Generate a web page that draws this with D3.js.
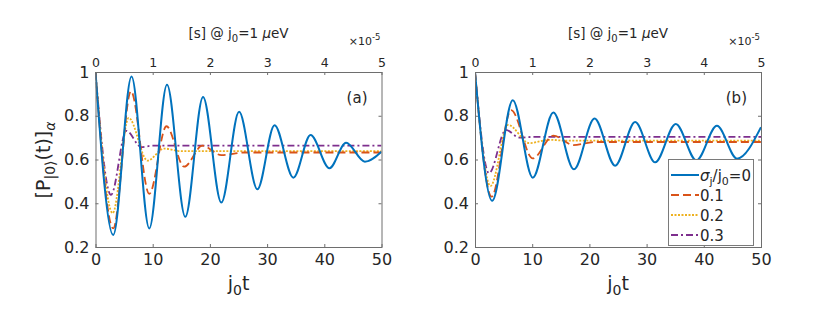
<!DOCTYPE html>
<html>
<head>
<meta charset="utf-8">
<script src="https://cdn.jsdelivr.net/npm/d3@7"></script>
<style>
  body { margin: 0; background: #fff; }
  text { font-family: "DejaVu Sans", sans-serif; fill: #262626; }
</style>
</head>
<body>
<svg id="chart" width="830" height="310"></svg>
<script>
// Data
// ----
var xTicks = [0, 10, 20, 30, 40, 50];
var xTopTicks = [0, 1, 2, 3, 4, 5];
var yTicks = [0.2, 0.4, 0.6, 0.8, 1];
var sigmas = ["0", "0.1", "0.2", "0.3"];

// panel (a)
var tA0 = [0, 3.1, 6.3, 9.4, 12.5, 15.7, 18.8, 22.0, 25.1, 28.3, 31.3, 34.6, 37.6, 40.9, 43.8, 47.1, 50];
var vA0 = [1, 0.255, 0.98, 0.285, 0.942, 0.338, 0.886, 0.403, 0.818, 0.464, 0.757, 0.517, 0.712, 0.56, 0.677, 0.59, 0.636];
var tA1 = [0, 3.1, 6.2, 9.4, 12.4, 15.5, 18.7, 22.0, 26, 50];
var vA1 = [1, 0.285, 0.912, 0.443, 0.752, 0.567, 0.663, 0.62, 0.632, 0.632];
var tA2 = [0, 3.0, 5.8, 9.1, 12.0, 15, 50];
var vA2 = [1, 0.355, 0.79, 0.595, 0.65, 0.638, 0.638];
var tA3 = [0, 2.7, 5.4, 8.0, 10, 50];
var vA3 = [1, 0.438, 0.731, 0.657, 0.663, 0.663];

// panel (b)
var tB0 = [0, 3.0, 6.6, 10.1, 13.7, 17.3, 20.9, 24.5, 28.0, 31.5, 35.1, 38.7, 42.3, 45.8, 50];
var vB0 = [1, 0.411, 0.871, 0.517, 0.815, 0.555, 0.787, 0.572, 0.771, 0.587, 0.762, 0.596, 0.754, 0.604, 0.748];
var tB1 = [0, 2.9, 6.3, 10.1, 13.7, 17.2, 21, 50];
var vB1 = [1, 0.43, 0.826, 0.605, 0.709, 0.666, 0.68, 0.68];
var tB2 = [0, 2.7, 5.8, 9.5, 13, 16, 50];
var vB2 = [1, 0.479, 0.758, 0.675, 0.69, 0.686, 0.686];
var tB3 = [0, 2.45, 5.4, 7.8, 10, 50];
var vB3 = [1, 0.537, 0.735, 0.70, 0.703, 0.703];

// Styles
// ------
var colors = ["#0072BD", "#D95319", "#EDB120", "#7E2F8E"];
var dashes = [null, "8,4", "2,1.5", "7,3,2,3"];
var axisColor = "#6e6e6e";

var svg = d3.select("#chart");
var plotTop = 72, plotBottom = 247;

function zip(t, v) { return t.map(function (d, i) { return {t: d, v: v[i]}; }); }

function drawPanel(p) {
  var g = svg.append("g");
  var x = d3.scaleLinear().domain([0, 50]).range([p.left, p.right]);
  var xs = d3.scaleLinear().domain([0, 5]).range([p.left, p.right]);
  var y = d3.scaleLinear().domain([0.2, 1]).range([plotBottom, plotTop]);

  // Clip
  // ----
  g.append("clipPath").attr("id", "clip" + p.name)
    .append("rect")
    .attr("x", p.left).attr("y", plotTop)
    .attr("width", p.right - p.left).attr("height", plotBottom - plotTop);

  // Lines
  // -----
  var line = d3.line()
    .x(function (d) { return x(d.t); })
    .y(function (d) { return y(d.v); })
    .curve(d3.curveMonotoneX);

  var lines = g.append("g").attr("clip-path", "url(#clip" + p.name + ")");
  p.series.slice().reverse().forEach(function (s, j) {
    var i = p.series.length - 1 - j;
    lines.append("path")
      .attr("d", line(s))
      .attr("fill", "none")
      .attr("stroke", colors[i])
      .attr("stroke-width", i === 0 ? 2 : 1.8)
      .attr("stroke-dasharray", dashes[i]);
  });

  // Axes
  // ----
  function style(a) {
    a.select(".domain").remove();
    a.selectAll(".tick line").attr("stroke", axisColor);
    a.selectAll("text").attr("fill", "#262626").style("font-family", "DejaVu Sans");
  }

  g.append("g").attr("transform", "translate(0," + plotBottom + ")")
    .call(d3.axisBottom(x).tickValues(xTicks).tickSize(-3).tickPadding(7).tickFormat(d3.format("d")))
    .call(style)
    .selectAll("text").style("font-size", "16px");

  g.append("g").attr("transform", "translate(0," + plotTop + ")")
    .call(d3.axisTop(xs).tickValues(xTopTicks).tickSize(-3).tickPadding(5).tickFormat(d3.format("d")))
    .call(style)
    .selectAll("text").style("font-size", "12.5px");

  g.append("g").attr("transform", "translate(" + p.left + ",0)")
    .call(d3.axisLeft(y).tickValues(yTicks).tickSize(-3).tickPadding(6).tickFormat(function (d) { return d === 1 ? "1" : d3.format(".1f")(d); }))
    .call(style)
    .selectAll("text").style("font-size", "16px");

  g.append("g").attr("transform", "translate(" + p.right + ",0)")
    .call(d3.axisRight(y).tickValues(yTicks).tickSize(-3).tickFormat(""))
    .call(style);

  g.append("rect")
    .attr("x", p.left + 0.5).attr("y", plotTop + 0.5)
    .attr("width", p.right - p.left).attr("height", plotBottom - plotTop)
    .attr("fill", "none").attr("stroke", axisColor).attr("stroke-width", 1);

  // Labels
  // ------
  var cx = (p.left + p.right) / 2;
  var xl = g.append("text").attr("x", cx).attr("y", 290)
    .attr("text-anchor", "middle").style("font-size", "19px");
  xl.append("tspan").text("j");
  xl.append("tspan").attr("dy", 5).style("font-size", "14px").text("0");
  xl.append("tspan").attr("dy", -5).text("t");

  var tl = g.append("text").attr("x", cx).attr("y", 38)
    .attr("text-anchor", "middle").style("font-size", "13.5px");
  tl.append("tspan").text("[s] @ j");
  tl.append("tspan").attr("dy", 4).style("font-size", "10px").text("0");
  tl.append("tspan").attr("dy", -4).text("=1 ");
  tl.append("tspan").style("font-style", "italic").text("\u03bc");
  tl.append("tspan").text("eV");

  var ex = g.append("text").attr("x", p.right - 1).attr("y", 45)
    .attr("text-anchor", "end").style("font-size", "11px").attr("fill", "#444");
  ex.append("tspan").text("\u00d710");
  ex.append("tspan").attr("dy", -5).style("font-size", "8.5px").text("-5");

  g.append("text").attr("x", p.right - 14).attr("y", 103)
    .attr("text-anchor", "end").style("font-size", "15px").text(p.label);
}

// Panel (a)
// ---------
drawPanel({
  name: "a", left: 95.5, right: 381.5, label: "(a)",
  series: [zip(tA0, vA0), zip(tA1, vA1), zip(tA2, vA2), zip(tA3, vA3)]
});

// Panel (b)
// ---------
drawPanel({
  name: "b", left: 475, right: 761, label: "(b)",
  series: [zip(tB0, vB0), zip(tB1, vB1), zip(tB2, vB2), zip(tB3, vB3)]
});

// Y label
// -------
var yl = svg.append("text")
  .attr("transform", "translate(50,160) rotate(-90)")
  .attr("text-anchor", "middle").style("font-size", "19px");
yl.append("tspan").text("[P");
yl.append("tspan").attr("dy", 5).style("font-size", "14px").text("|0\u27e9");
yl.append("tspan").attr("dy", -5).text("(t)]");
yl.append("tspan").attr("dy", 5).style("font-size", "14px").style("font-style", "italic").text("\u03b1");

// Legend
// ------
var leg = svg.append("g");
var lx = 668, ly = 159, lw = 85, lh = 86;
leg.append("rect").attr("x", lx + 0.5).attr("y", ly + 0.5).attr("width", lw).attr("height", lh)
  .attr("fill", "#fff").attr("stroke", "#7a7a7a").attr("stroke-width", 1);

sigmas.forEach(function (s, i) {
  var ry = ly + 16 + i * 20;
  leg.append("line")
    .attr("x1", lx + 3).attr("x2", lx + 31)
    .attr("y1", ry).attr("y2", ry)
    .attr("stroke", colors[i]).attr("stroke-width", i === 0 ? 2 : 1.8)
    .attr("stroke-dasharray", dashes[i]);
  var t = leg.append("text").attr("x", lx + 32).attr("y", ry + 5.5).style("font-size", "15px");
  if (i === 0) {
    t.append("tspan").style("font-style", "italic").text("\u03c3");
    t.append("tspan").attr("dy", 4).style("font-size", "11px").text("j");
    t.append("tspan").attr("dy", -4).text("/j");
    t.append("tspan").attr("dy", 4).style("font-size", "11px").text("0");
    t.append("tspan").attr("dy", -4).text("=" + s);
  } else {
    t.text(s);
  }
});
</script>
</body>
</html>
